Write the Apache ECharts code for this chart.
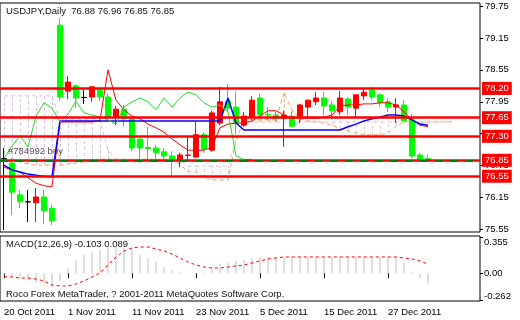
<!DOCTYPE html>
<html><head><meta charset="utf-8">
<script src="https://cdn.jsdelivr.net/npm/echarts@6/dist/echarts.min.js"></script>
<style>html,body{margin:0;padding:0;background:#fff}#c{width:520px;height:320px}</style>
</head><body><div id="c"></div><script>
const dates = ['20 Oct 2011','21 Oct 2011','24 Oct 2011','25 Oct 2011','26 Oct 2011','27 Oct 2011','28 Oct 2011','31 Oct 2011',
'1 Nov 2011','2 Nov 2011','3 Nov 2011','4 Nov 2011','7 Nov 2011','8 Nov 2011','9 Nov 2011','10 Nov 2011',
'11 Nov 2011','14 Nov 2011','15 Nov 2011','16 Nov 2011','17 Nov 2011','18 Nov 2011','21 Nov 2011','22 Nov 2011',
'23 Nov 2011','24 Nov 2011','25 Nov 2011','28 Nov 2011','29 Nov 2011','30 Nov 2011','1 Dec 2011','2 Dec 2011',
'5 Dec 2011','6 Dec 2011','7 Dec 2011','8 Dec 2011','9 Dec 2011','12 Dec 2011','13 Dec 2011','14 Dec 2011',
'15 Dec 2011','16 Dec 2011','19 Dec 2011','20 Dec 2011','21 Dec 2011','22 Dec 2011','23 Dec 2011','26 Dec 2011',
'27 Dec 2011','28 Dec 2011','29 Dec 2011','30 Dec 2011','2 Jan 2012','3 Jan 2012','','','','','',''];
// [open, high, low, close]
const ohlc = [
[76.88,77.08,75.54,76.88],[76.80,76.89,75.82,76.25],[76.20,76.29,75.95,76.07],[76.07,76.29,75.69,76.07],
[76.05,76.33,75.69,76.16],[76.16,76.29,75.65,75.90],[75.95,76.01,75.63,75.71],[79.39,79.52,77.98,78.04],
[78.15,78.43,78.00,78.32],[78.25,78.28,77.83,78.02],[78.03,78.17,77.91,78.03],[78.04,78.25,77.95,78.23],
[78.17,78.23,77.97,78.04],[78.04,78.11,77.57,77.66],[77.66,77.87,77.51,77.81],[77.81,77.89,77.48,77.63],
[77.64,77.66,77.02,77.08],[77.25,77.25,76.80,77.08],[77.09,77.48,76.86,77.07],[77.08,77.14,76.82,76.99],
[77.01,77.08,76.86,76.93],[76.93,77.02,76.54,76.87],[76.86,76.99,76.72,76.95],[76.94,77.29,76.82,76.95],
[76.91,77.57,76.89,77.33],[77.33,77.38,76.99,77.06],[77.04,77.78,77.01,77.74],[77.55,78.23,77.51,77.95],
[77.96,78.28,77.76,77.83],[77.85,78.15,77.33,77.55],[77.51,77.76,77.48,77.68],[77.66,78.06,77.61,77.98],
[78.02,78.10,77.66,77.70],[77.71,77.85,77.61,77.70],[77.70,77.76,77.57,77.63],[77.64,77.78,77.10,77.70],
[77.68,77.76,77.48,77.49],[77.66,77.91,77.55,77.89],[77.85,77.99,77.63,77.98],[77.95,78.13,77.89,78.02],
[78.02,78.13,77.70,77.87],[77.89,77.96,77.63,77.78],[77.76,78.15,77.70,78.02],[78.00,78.04,77.70,77.85],
[77.83,78.08,77.66,78.08],[78.06,78.19,77.98,78.13],[78.17,78.23,77.98,78.04],[78.08,78.11,77.85,77.93],
[77.95,78.02,77.76,77.85],[77.85,78.02,77.55,77.89],[77.89,77.98,77.57,77.59],[77.61,77.72,76.89,76.93],
[76.95,76.99,76.84,76.84],[76.88,76.96,76.85,76.85]];
const blackBars = [0,3,10];
const tenkan = [76.72,76.67,76.63,76.52,76.42,76.37,76.35,77.57,77.57,77.57,77.57,77.57,77.60,78.55,77.98,77.80,
77.68,77.63,77.53,77.46,77.38,77.25,77.14,77.04,77.04,77.04,77.10,77.46,77.53,77.55,77.55,77.59,
77.68,77.78,77.78,77.70,77.64,77.64,77.64,77.64,77.66,77.70,77.87,77.89,77.89,77.91,77.91,77.93,
77.93,77.89,77.76,77.61,77.51,77.48];
const kijun = [76.76,76.67,76.63,76.59,76.57,76.55,76.54,77.59,77.59,77.59,77.59,77.59,77.59,77.59,77.59,77.59,
77.59,77.59,77.59,77.59,77.59,77.59,77.59,77.59,77.59,77.59,77.59,77.59,78.02,77.55,77.42,77.42,
77.42,77.42,77.42,77.42,77.42,77.42,77.42,77.42,77.42,77.42,77.42,77.48,77.53,77.59,77.63,77.66,
77.70,77.70,77.68,77.61,77.53,77.51];
const chikou = [76.89,77.12,77.31,77.10,77.68,77.93,77.83,77.57,77.72,77.96,77.74,77.70,77.66,77.61,77.53,77.85,
77.95,78.02,77.95,77.80,78.02,77.85,78.02,78.13,78.08,77.93,77.85,77.89,77.76,76.93,76.86,76.87];
const spanA = [76.86,76.86,76.82,76.78,76.76,76.76,76.76,76.76,76.78,76.80,76.82,76.86,76.87,76.87,76.87,76.87,
76.87,76.87,76.87,76.87,76.87,76.87,76.78,76.63,76.63,76.52,76.48,76.48,76.48,77.23,77.61,77.61,
77.61,77.61,77.61,78.12,77.80,77.63,77.59,77.57,77.55,77.51,77.44,77.40,77.36,77.33,77.33,77.33,
77.36,77.49,77.57,77.57,77.57,77.57,77.57,77.57,77.57];
const spanB = [78.06,78.06,78.06,78.06,78.06,78.06,78.06,77.61,77.61,77.61,77.61,77.61,77.61,77.04,76.86,76.86,
76.86,76.86,76.86,76.86,76.86,76.86,76.86,76.74,76.74,76.74,76.74,76.74,76.74,77.23,77.57,77.57,
77.57,77.57,77.57,77.57,77.57,77.57,77.57,77.57,77.57,77.57,77.57,77.57,77.57,77.57,77.57,77.57,
77.57,77.57,77.57,77.57,77.57,77.57,77.57,77.57,77.57];
const macdMain = [-0.02,-0.03,-0.05,-0.07,-0.09,-0.10,-0.14,-0.08,0.05,0.13,0.18,0.21,0.23,0.26,0.26,0.25,
0.25,0.18,0.15,0.11,0.06,0.03,0.01,0.00,-0.01,-0.01,0.04,0.09,0.10,0.12,0.13,0.15,
0.16,0.16,0.16,0.16,0.16,0.16,0.16,0.16,0.16,0.16,0.16,0.16,0.16,0.16,0.16,0.16,
0.16,0.16,0.10,0.01,-0.05,-0.103];
const macdSignal = [-0.037,-0.037,-0.047,-0.047,-0.057,-0.076,-0.116,-0.125,-0.125,-0.106,-0.076,-0.037,0.002,0.080,0.159,0.218,
0.247,0.257,0.257,0.237,0.218,0.188,0.149,0.110,0.080,0.061,0.051,0.051,0.061,0.071,0.080,0.100,
0.120,0.139,0.149,0.159,0.159,0.159,0.159,0.159,0.159,0.159,0.159,0.159,0.159,0.159,0.159,0.159,
0.159,0.159,0.149,0.139,0.120,0.089];
const levels = [78.20, 77.65, 77.30, 76.85, 76.55];
const orderLevel = 76.85;
const orderText = '#784992 buy';
const priceTicks = [75.55, 76.15, 76.75, 77.35, 77.95, 78.55, 79.15, 79.75];
const macdTicks = [0.355, 0, -0.262];
const macdTickText = ['0.355', '0.00', '-0.262'];
const titleText = 'USDJPY,Daily  76.88 76.96 76.85 76.85';
const macdText = 'MACD(12,26,9) -0.103 0.089';
const copyText = 'Roco Forex MetaTrader, ? 2001-2011 MetaQuotes Software Corp.';

const FONT = '"Liberation Sans", Arial, sans-serif';
const FS = 9.5;
const chart = echarts.init(document.getElementById('c'), null, {renderer: 'canvas'});
const candleData = ohlc.map((d, i) => {
  const v = [d[0], d[3], d[2], d[1]];
  if (blackBars.includes(i)) return {value: v, itemStyle: {color: '#000', color0: '#000', borderColor: '#000', borderColor0: '#000'}};
  return v;
});
const SANDY = '#F4A460', THISTLE = '#D8BFD8';
const dateTick = (idx, val) => idx % 8 === 0 && val !== '';
chart.setOption({
  animation: false,
  backgroundColor: '#fff',
  textStyle: {fontFamily: FONT, fontSize: FS, color: '#000'},
  title: [
    {text: titleText, left: 6, top: 6, padding: 0, textStyle: {fontFamily: FONT, fontSize: FS, fontWeight: 'normal', color: '#111'}},
    {text: macdText, left: 6, top: 239, padding: 0, textStyle: {fontFamily: FONT, fontSize: FS, fontWeight: 'normal', color: '#111'}},
    {text: copyText, left: 6, top: 289, padding: 0, textStyle: {fontFamily: FONT, fontSize: FS, fontWeight: 'normal', color: '#111'}}
  ],
  grid: [
    {left: -1, width: 481, top: 3, height: 229, show: true, borderColor: '#000', borderWidth: 1, backgroundColor: 'transparent'},
    {left: -1, width: 481, top: 236, height: 65, show: true, borderColor: '#000', borderWidth: 1, backgroundColor: 'transparent'}
  ],
  xAxis: [
    {type: 'category', gridIndex: 0, data: dates, boundaryGap: true, axisLine: {show: false}, axisTick: {show: false}, axisLabel: {show: false}, splitLine: {show: false}},
    {type: 'category', gridIndex: 1, data: dates, boundaryGap: true, axisLine: {show: false},
     axisTick: {show: true, interval: dateTick, alignWithLabel: true, length: 5, lineStyle: {color: '#000'}},
     axisLabel: {show: true, interval: dateTick, align: 'left', margin: 6, fontFamily: FONT, fontSize: FS, color: '#000', hideOverlap: false},
     splitLine: {show: false}}
  ],
  yAxis: [
    {type: 'value', gridIndex: 0, position: 'right', min: 75.502, max: 79.806, splitLine: {show: false}, axisLine: {show: false},
     axisTick: {show: true, customValues: priceTicks, length: 3, lineStyle: {color: '#000'}},
     axisLabel: {show: true, customValues: priceTicks, margin: 5, formatter: v => v.toFixed(2), fontFamily: FONT, fontSize: FS, color: '#000'}},
    {type: 'value', gridIndex: 1, position: 'right', min: -0.2725, max: 0.3647, splitLine: {show: false}, axisLine: {show: false},
     axisTick: {show: true, customValues: macdTicks, length: 3, lineStyle: {color: '#000'}},
     axisLabel: {show: true, customValues: macdTicks, margin: 4, fontFamily: FONT, fontSize: FS, color: '#000',
       formatter: v => { const k = macdTicks.findIndex(t => Math.abs(t - v) < 1e-6); const s = macdTickText[k];
         return k === 0 ? '{t|' + s + '}' : (k === 2 ? '{b|' + s + '}' : s); },
       rich: {t: {padding: [10, 0, 0, 0], fontFamily: FONT, fontSize: FS, color: '#000'}, b: {padding: [0, 0, 8, 0], fontFamily: FONT, fontSize: FS, color: '#000'}}}}
  ],
  series: [
    {type: 'custom', xAxisIndex: 0, yAxisIndex: 0, z: 1, silent: true,
     data: spanA.map((a, i) => [i, a, spanB[i]]),
     renderItem: (params, api) => {
       const i = api.value(0), a = api.value(1), b = api.value(2);
       const p1 = api.coord([i, a]), p2 = api.coord([i, b]);
       return {type: 'line', shape: {x1: Math.round(p1[0]) + 0.5, y1: p1[1], x2: Math.round(p2[0]) + 0.5, y2: p2[1]},
         style: {stroke: a > b ? SANDY : THISTLE, lineWidth: 1, lineDash: [3, 3]}};
     }},
    {type: 'line', name: 'spanA', data: spanA, xAxisIndex: 0, yAxisIndex: 0, symbol: 'none', z: 1, silent: true,
     lineStyle: {color: SANDY, width: 1, type: [4, 3]}},
    {type: 'line', name: 'spanB', data: spanB, xAxisIndex: 0, yAxisIndex: 0, symbol: 'none', z: 1, silent: true,
     lineStyle: {color: THISTLE, width: 1, type: [4, 3]}},
    {type: 'candlestick', data: candleData, xAxisIndex: 0, yAxisIndex: 0, barWidth: 5, z: 2,
     itemStyle: {color: '#FF0000', color0: '#00FF00', borderColor: '#FF0000', borderColor0: '#00FF00', borderWidth: 1}},
    {type: 'line', name: 'tenkan', data: tenkan, xAxisIndex: 0, yAxisIndex: 0, symbol: 'none', z: 3, silent: true,
     lineStyle: {color: '#FF0000', width: 1}},
    {type: 'line', name: 'kijun', data: kijun, xAxisIndex: 0, yAxisIndex: 0, symbol: 'none', z: 3, silent: true,
     lineStyle: {color: '#0000FF', width: 1.5}},
    {type: 'line', name: 'chikou', data: chikou, xAxisIndex: 0, yAxisIndex: 0, symbol: 'none', z: 3, silent: true,
     lineStyle: {color: '#22DD22', width: 1}},
    {type: 'line', data: [], xAxisIndex: 0, yAxisIndex: 0, z: 4, silent: true,
     markLine: {symbol: 'none', silent: true, animation: false,
       lineStyle: {color: '#FF0000', width: 2.5, type: 'solid'},
       label: {show: true, position: 'end', distance: 2, formatter: p => p.value.toFixed(2), backgroundColor: '#FF0000', color: '#fff',
               padding: [2, 3, 1, 3], fontFamily: FONT, fontSize: FS},
       data: levels.map(v => ({yAxis: v}))}},
    {type: 'line', data: [], xAxisIndex: 0, yAxisIndex: 0, z: 5, silent: true,
     markLine: {symbol: 'none', silent: true, animation: false,
       lineStyle: {color: '#117711', width: 2, type: [8, 7]},
       label: {show: true, position: 'insideStartTop', distance: [8, 4], formatter: orderText, color: '#555', fontFamily: FONT, fontSize: FS},
       data: [{yAxis: orderLevel}]}},
    {type: 'bar', data: macdMain, xAxisIndex: 1, yAxisIndex: 1, barWidth: 1, itemStyle: {color: '#C0C0C0'}, silent: true},
    {type: 'line', data: macdSignal, xAxisIndex: 1, yAxisIndex: 1, symbol: 'none', silent: true,
     lineStyle: {color: '#FF0000', width: 1, type: [3, 3]}}
  ]
});
</script></body></html>
